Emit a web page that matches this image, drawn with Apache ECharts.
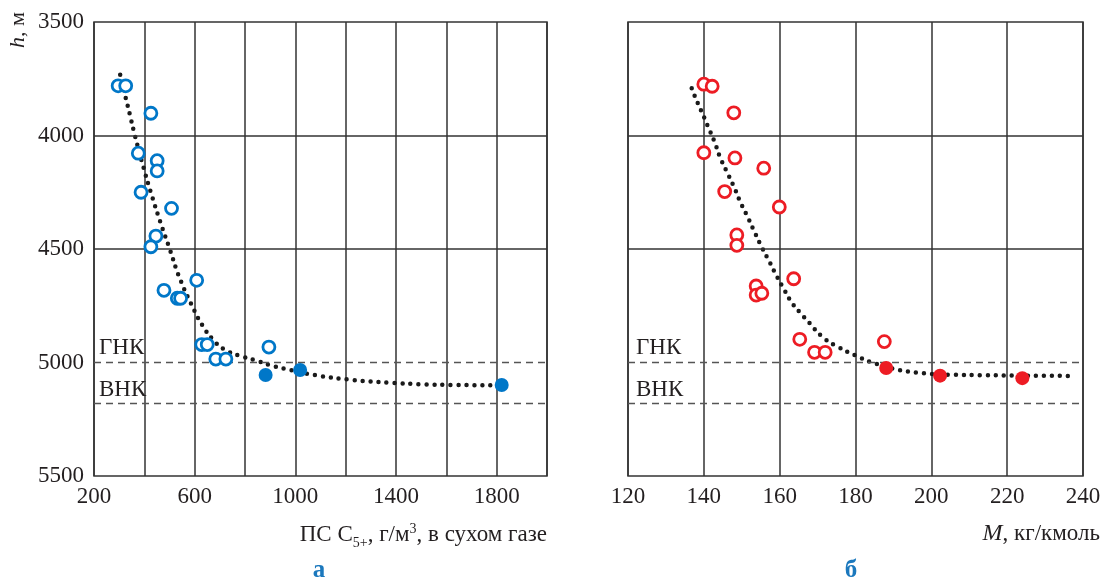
<!DOCTYPE html>
<html><head><meta charset="utf-8">
<script src="https://cdn.jsdelivr.net/npm/echarts@6/dist/echarts.min.js"></script>
<style>html,body{margin:0;padding:0;background:#fff}#c{width:1105px;height:581px}</style>
</head><body><div id="c"></div>
<script>
// ---- data (left panel: ПС C5+) ----
const leftOpenX = [296, 326, 426, 376, 451, 451, 387, 508, 446, 426, 478, 531, 544, 608, 628, 650, 684, 724, 895];
const leftOpenY = [3781, 3781, 3902, 4078, 4111, 4156, 4250, 4321, 4443, 4490, 4682, 4717, 4717, 4638, 4921, 4921, 4985, 4985, 4932];
const leftFilledX = [882, 1019, 1820];
const leftFilledY = [5055, 5033, 5099];
const leftCurveX = [304, 327, 343, 358, 392, 429, 469, 502, 541, 601, 630, 674, 717, 780, 839, 899, 978, 1097, 1229, 1375, 1507, 1640, 1785, 1820];
const leftCurveY = [3732, 3839, 3910, 3980, 4122, 4262, 4399, 4504, 4630, 4776, 4835, 4901, 4942, 4971, 4989, 5011, 5033, 5059, 5077, 5089, 5096, 5099, 5100, 5100];
// ---- data (right panel: M) ----
const rightOpenX = [140.0, 142.2, 147.9, 140.0, 148.2, 155.8, 145.5, 159.9, 148.7, 148.7, 163.7, 153.8, 153.8, 155.3, 165.3, 169.2, 172.0, 187.6];
const rightOpenY = [3774, 3783, 3900, 4076, 4099, 4144, 4247, 4315, 4438, 4484, 4631, 4663, 4703, 4695, 4898, 4955, 4955, 4908];
const rightFilledX = [188.1, 202.3, 224.0];
const rightFilledY = [5024, 5058, 5069];
const rightCurveX = [136.8, 137.6, 138.5, 139.4, 140.3, 141.1, 142.8, 144.2, 146.2, 148.0, 149.7, 151.6, 153.4, 155.3, 157.4, 159.3, 161.4, 163.3, 165.3, 167.9, 171.0, 174.9, 180.2, 184.6, 190.7, 196.8, 205.6, 214.4, 223.2, 236.3];
const rightCurveY = [3792, 3826, 3861, 3895, 3929, 3961, 4027, 4093, 4164, 4228, 4296, 4360, 4426, 4492, 4559, 4622, 4685, 4739, 4779, 4827, 4883, 4927, 4971, 5001, 5030, 5045, 5054, 5056, 5058, 5059];
// ---- levels ----
const solidLevels = [4000, 4500];
const contactLevels = [5000, 5180]; // ГНК, ВНК
const contactNames = ['ГНК', 'ВНК'];
const yTicks = [3500, 4000, 4500, 5000, 5500];

const zip = (xs, ys) => xs.map((x, i) => [x, ys[i]]);
const FONT = '"Liberation Serif", "DejaVu Serif", serif';
const BLUE = '#0077c8', RED = '#ed1c24', BOLDBLUE = '#1b78bd';
const TXT = '#231f20';

const chart = echarts.init(document.getElementById('c'), null, {renderer: 'canvas'});

function levelLines() {
  return {
    silent: true, symbol: 'none', animation: false,
    label: {show: false},
    data: solidLevels.map(v => ({yAxis: v, lineStyle: {type: 'solid', color: '#333', width: 1.5}}))
      .concat(contactLevels.map(v => ({yAxis: v, lineStyle: {type: [7, 5], color: '#555', width: 1.3}})))
  };
}
function curve(xi, data) {
  return {type: 'line', xAxisIndex: xi, yAxisIndex: xi, data, smooth: true, symbol: 'none',
    lineStyle: {color: '#1a1a1a', width: 4.5, type: [0, 8], cap: 'round', opacity: 1}, z: 3, markLine: levelLines()};
}
function open(xi, data, col) {
  return {type: 'scatter', xAxisIndex: xi, yAxisIndex: xi, data, symbol: 'circle', symbolSize: 12,
    itemStyle: {color: '#fff', borderColor: col, borderWidth: 2.8, opacity: 1}, z: 5};
}
function filled(xi, data, col) {
  return {type: 'scatter', xAxisIndex: xi, yAxisIndex: xi, data, symbol: 'circle', symbolSize: 14,
    itemStyle: {color: col, opacity: 1}, z: 6};
}
const axisText = {fontFamily: FONT, fontSize: 23, color: TXT};

chart.setOption({
  animation: false,
  grid: [
    {left: 94, top: 22, width: 453, height: 454, show: true, borderColor: '#333', borderWidth: 1.5, containLabel: false},
    {left: 628, top: 22, width: 455, height: 454, show: true, borderColor: '#333', borderWidth: 1.5, containLabel: false}
  ],
  xAxis: [
    {type: 'value', gridIndex: 0, min: 200, max: 2000, interval: 200,
      axisLine: {show: false}, axisTick: {show: false},
      splitLine: {show: true, lineStyle: {color: '#333', width: 1.5}},
      axisLabel: Object.assign({margin: 9, formatter: v => ((v - 200) % 400 === 0 && v < 2000) ? String(v) : ''}, axisText)},
    {type: 'value', gridIndex: 1, min: 120, max: 240, interval: 20,
      axisLine: {show: false}, axisTick: {show: false},
      splitLine: {show: true, lineStyle: {color: '#333', width: 1.5}},
      axisLabel: Object.assign({margin: 9}, axisText)}
  ],
  yAxis: [
    {type: 'value', gridIndex: 0, min: 3500, max: 5500, interval: 500, inverse: true,
      axisLine: {show: false}, axisTick: {show: false}, splitLine: {show: false},
      axisLabel: Object.assign({margin: 10, formatter: v => yTicks.includes(v) ? String(v) : ''}, axisText)},
    {type: 'value', gridIndex: 1, min: 3500, max: 5500, interval: 500, inverse: true,
      axisLine: {show: false}, axisTick: {show: false}, splitLine: {show: false},
      axisLabel: {show: false}}
  ],
  series: [
    curve(0, zip(leftCurveX, leftCurveY)),
    open(0, zip(leftOpenX, leftOpenY), BLUE),
    filled(0, zip(leftFilledX, leftFilledY), BLUE),
    curve(1, zip(rightCurveX, rightCurveY)),
    open(1, zip(rightOpenX, rightOpenY), RED),
    filled(1, zip(rightFilledX, rightFilledY), RED)
  ],
  graphic: [
    {type: 'text', x: 18, y: 30, rotation: Math.PI / 2, z: 10,
      style: {text: '{i|h}{r|, м}', align: 'center', verticalAlign: 'middle',
        rich: {i: {fontFamily: FONT, fontSize: 22, fontStyle: 'italic', fill: TXT},
               r: {fontFamily: FONT, fontSize: 22, fill: TXT}}}},
    {type: 'text', x: 547, y: 535, z: 10,
      style: {text: '{a|ПС C}{s|5+}{a|, г/м}{p|3}{a|, в сухом газе}', align: 'right', verticalAlign: 'middle',
        rich: {a: {fontFamily: FONT, fontSize: 23, fill: TXT, lineHeight: 28},
               s: {fontFamily: FONT, fontSize: 14, fill: TXT, padding: [16, 0, 0, 0]},
               p: {fontFamily: FONT, fontSize: 14, fill: TXT, padding: [0, 0, 12, 0]}}}},
    {type: 'text', x: 1100, y: 534, z: 10,
      style: {text: '{i|M}{a|, кг/кмоль}', align: 'right', verticalAlign: 'middle',
        rich: {i: {fontFamily: FONT, fontSize: 24, fontStyle: 'italic', fill: TXT},
               a: {fontFamily: FONT, fontSize: 23, fill: TXT}}}},
    {type: 'text', x: 319, y: 571, z: 10,
      style: {text: 'а', align: 'center', verticalAlign: 'middle', fontFamily: FONT, fontSize: 25, fontWeight: 'bold', fill: BOLDBLUE}},
    {type: 'text', x: 851, y: 571, z: 10,
      style: {text: 'б', align: 'center', verticalAlign: 'middle', fontFamily: FONT, fontSize: 25, fontWeight: 'bold', fill: BOLDBLUE}},
    {type: 'text', x: 99, y: 348, z: 10, style: {text: contactNames[0], verticalAlign: 'middle', fontFamily: FONT, fontSize: 23, fill: TXT}},
    {type: 'text', x: 99, y: 390, z: 10, style: {text: contactNames[1], verticalAlign: 'middle', fontFamily: FONT, fontSize: 23, fill: TXT}},
    {type: 'text', x: 636, y: 348, z: 10, style: {text: contactNames[0], verticalAlign: 'middle', fontFamily: FONT, fontSize: 23, fill: TXT}},
    {type: 'text', x: 636, y: 390, z: 10, style: {text: contactNames[1], verticalAlign: 'middle', fontFamily: FONT, fontSize: 23, fill: TXT}}
  ]
});
</script></body></html>
